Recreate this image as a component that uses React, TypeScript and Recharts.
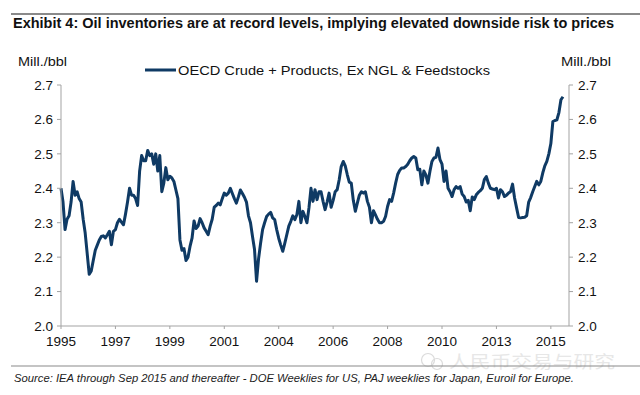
import React from 'react';
import { LineChart, Line, XAxis, YAxis } from 'recharts';

// monthly OECD inventories, Jan 1995 onwards
const inventory = [
  2.40, 2.36, 2.28, 2.31, 2.32, 2.36, 2.42, 2.38, 2.39, 2.37, 2.36, 2.31, // 1995
  2.27, 2.21, 2.15, 2.16, 2.19, 2.22, 2.235, 2.25, 2.26, 2.262, 2.256, 2.265, // 1996
  2.275, 2.236, 2.275, 2.28, 2.30, 2.31, 2.302, 2.294, 2.325, 2.36, 2.40, 2.38, // 1997
  2.38, 2.37, 2.35, 2.45, 2.495, 2.48, 2.48, 2.51, 2.495, 2.50, 2.47, 2.50, // 1998
  2.45, 2.495, 2.39, 2.415, 2.46, 2.425, 2.435, 2.43, 2.42, 2.395, 2.37, 2.25, // 1999
  2.22, 2.225, 2.19, 2.20, 2.231, 2.255, 2.305, 2.283, 2.29, 2.312, 2.30, 2.285, // 2000
  2.275, 2.265, 2.29, 2.31, 2.345, 2.35, 2.357, 2.352, 2.37, 2.386, 2.38, 2.386, // 2001
  2.40, 2.385, 2.37, 2.357, 2.375, 2.395, 2.385, 2.374, 2.36, 2.32, 2.30, 2.26, // 2002
  2.222, 2.13, 2.195, 2.24, 2.28, 2.30, 2.318, 2.325, 2.33, 2.314, 2.309, 2.28, // 2003
  2.255, 2.235, 2.217, 2.24, 2.265, 2.29, 2.304, 2.32, 2.309, 2.323, 2.362, 2.30, // 2004
  2.333, 2.318, 2.30, 2.343, 2.40, 2.362, 2.396, 2.367, 2.39, 2.39, 2.362, 2.338, // 2005
  2.36, 2.386, 2.345, 2.365, 2.39, 2.396, 2.425, 2.463, 2.478, 2.465, 2.44, 2.418, // 2006
  2.415, 2.365, 2.333, 2.357, 2.38, 2.39, 2.386, 2.39, 2.362, 2.345, 2.30, 2.335, // 2007
  2.323, 2.31, 2.30, 2.30, 2.304, 2.318, 2.347, 2.367, 2.362, 2.386, 2.415, 2.44, // 2008
  2.452, 2.459, 2.459, 2.463, 2.47, 2.48, 2.488, 2.492, 2.488, 2.454, 2.455, 2.41, // 2009
  2.45, 2.439, 2.415, 2.449, 2.478, 2.488, 2.49, 2.517, 2.483, 2.47, 2.42, 2.45, // 2010
  2.40, 2.39, 2.376, 2.396, 2.405, 2.40, 2.405, 2.383, 2.376, 2.36, 2.365, 2.335, // 2011
  2.375, 2.367, 2.381, 2.388, 2.393, 2.40, 2.425, 2.434, 2.415, 2.40, 2.398, 2.396, // 2012
  2.40, 2.372, 2.396, 2.39, 2.376, 2.38, 2.386, 2.39, 2.412, 2.372, 2.343, 2.315, // 2013
  2.314, 2.315, 2.316, 2.32, 2.36, 2.373, 2.39, 2.405, 2.42, 2.41, 2.42, 2.445, // 2014
  2.465, 2.478, 2.50, 2.53, 2.594, 2.597, 2.599, 2.62, 2.657, 2.666, // 2015 (to Oct)
];

// axis runs Jan 1995 .. Jan 2016
const startYear = 1995;
const monthCount = 253;
const months: string[] = [];
for (let i = 0; i < monthCount; i++) {
  const y = startYear + Math.floor(i / 12);
  const m = (i % 12) + 1;
  months.push(`${y}-${m < 10 ? '0' + m : m}`);
}

const yTicks = [2.0, 2.1, 2.2, 2.3, 2.4, 2.5, 2.6, 2.7];

const data = months.map((date, i) => ({
  date,
  oecd: i < inventory.length ? inventory[i] : null,
}));

const NAVY = '#0f3a64';
const AXIS = '#a3a3a3';
const FONT = '"Liberation Sans", Arial, sans-serif';

const tickStyle = { fill: '#111', fontSize: 13.5, fontFamily: FONT };

export default function App() {
  return (
    <div style={{ position: 'relative', width: 640, height: 395, background: '#fff' }}>
      <style>{'body{margin:0}'}</style>
      <LineChart
        width={640}
        height={395}
        data={data}
        margin={{ top: 85, right: 41, bottom: 38, left: 31 }}
      >
        <XAxis
          dataKey="date"
          interval={26}
          tickFormatter={(d: string) => d.slice(0, 4)}
          tick={tickStyle}
          tickSize={3}
          tickMargin={7}
          height={31}
          stroke={AXIS}
        />
        <YAxis
          yAxisId="left"
          domain={[2.0, 2.7]}
          ticks={yTicks}
          tickFormatter={(v: number) => v.toFixed(1)}
          tick={tickStyle}
          tickSize={4}
          tickMargin={4}
          width={30}
          stroke={AXIS}
        />
        <YAxis
          yAxisId="right"
          orientation="right"
          domain={[2.0, 2.7]}
          ticks={yTicks}
          tickFormatter={(v: number) => v.toFixed(1)}
          tick={tickStyle}
          tickSize={4}
          tickMargin={5}
          width={30}
          stroke={AXIS}
        />
        {/* same series on the right axis, invisible, so that axis gets drawn */}
        <Line
          yAxisId="right"
          type="linear"
          dataKey="oecd"
          stroke="none"
          dot={false}
          activeDot={false}
          legendType="none"
          isAnimationActive={false}
        />
        <Line
          yAxisId="left"
          type="linear"
          dataKey="oecd"
          stroke={NAVY}
          strokeWidth={3}
          strokeLinejoin="round"
          dot={false}
          activeDot={false}
          isAnimationActive={false}
        />
      </LineChart>

      <svg
        width={640}
        height={395}
        style={{ position: 'absolute', left: 0, top: 0, pointerEvents: 'none' }}
        fontFamily={FONT}
      >
        <line x1={11} y1={14} x2={640} y2={14} stroke="#8a8a8a" strokeWidth={2} />
        <text x={13} y={28} fontSize={14} fontWeight="bold" fill="#111" textLength={601} lengthAdjust="spacingAndGlyphs">
          Exhibit 4: Oil inventories are at record levels, implying elevated downside risk to prices
        </text>
        <text x={18} y={66} fontSize={12.5} fill="#111" textLength={49} lengthAdjust="spacingAndGlyphs">Mill./bbl</text>
        <text x={561} y={66} fontSize={12.5} fill="#111" textLength={50} lengthAdjust="spacingAndGlyphs">Mill./bbl</text>
        <line x1={145} y1={70} x2={176} y2={70} stroke={NAVY} strokeWidth={3} />
        <text x={178} y={75} fontSize={13.5} fill="#111" textLength={312} lengthAdjust="spacingAndGlyphs">
          OECD Crude + Products, Ex NGL &amp; Feedstocks
        </text>
        <g opacity={0.35}>
          <circle cx={428} cy={360} r={6.5} fill="none" stroke="#999" strokeWidth={1.2} />
          <circle cx={437} cy={364} r={5.5} fill="none" stroke="#999" strokeWidth={1.2} />
          <text x={449} y={368} fontSize={17} fill="#bbb" fontFamily='"Noto Sans CJK SC", sans-serif' textLength={166} lengthAdjust="spacingAndGlyphs">
            人民币交易与研究
          </text>
        </g>
        <line x1={11} y1={366} x2={640} y2={366} stroke="#8a8a8a" strokeWidth={1.2} />
        <text x={14} y={382} fontSize={10.5} fontStyle="italic" fill="#222" textLength={560} lengthAdjust="spacingAndGlyphs">
          Source: IEA through Sep 2015 and thereafter - DOE Weeklies for US, PAJ weeklies for Japan, Euroil for Europe.
        </text>
      </svg>
    </div>
  );
}
